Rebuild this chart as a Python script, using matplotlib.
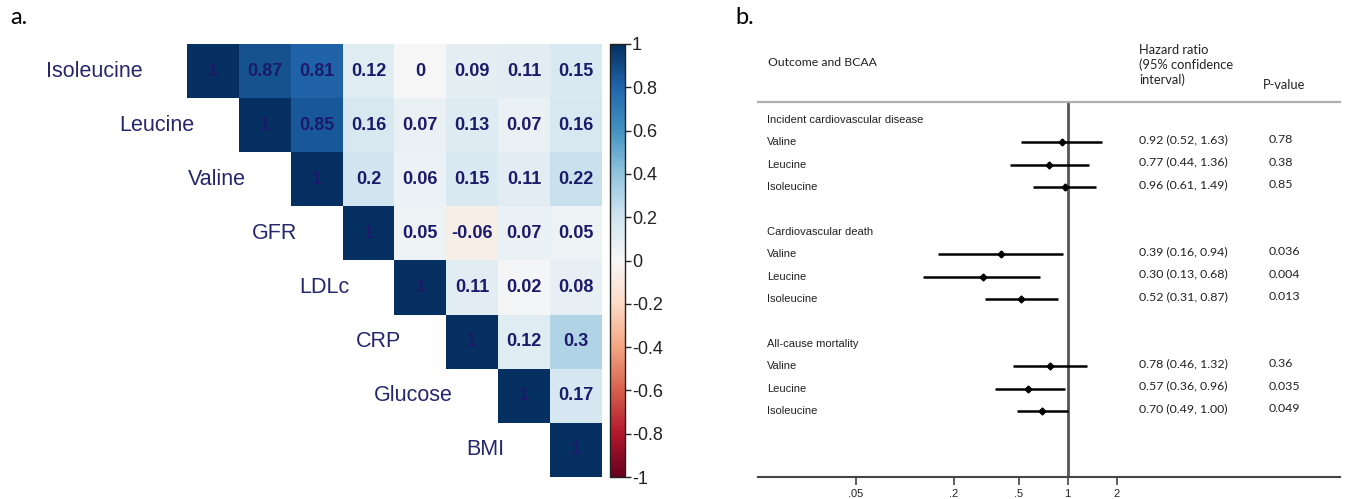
import numpy as np
import matplotlib
matplotlib.use("Agg")
import matplotlib.pyplot as plt
import matplotlib.transforms as mtransforms

plt.rcParams['font.family'] = ['Liberation Sans', 'DejaVu Sans']

# ---- panel a data: correlation matrix (upper triangle, row by row) ----
variables = ['Isoleucine', 'Leucine', 'Valine', 'GFR', 'LDLc', 'CRP', 'Glucose', 'BMI']
upper_rows = [
    [1, 0.87, 0.81, 0.12, 0, 0.09, 0.11, 0.15],
    [1, 0.85, 0.16, 0.07, 0.13, 0.07, 0.16],
    [1, 0.2, 0.06, 0.15, 0.11, 0.22],
    [1, 0.05, -0.06, 0.07, 0.05],
    [1, 0.11, 0.02, 0.08],
    [1, 0.12, 0.3],
    [1, 0.17],
    [1],
]
cbar_ticks = [1, 0.8, 0.6, 0.4, 0.2, 0, -0.2, -0.4, -0.6, -0.8, -1]
cbar_labels = ['1', '0.8', '0.6', '0.4', '0.2', '0', '-0.2', '-0.4', '-0.6', '-0.8', '-1']

# ---- panel b data: forest plot ----
outcomes = ['Incident cardiovascular disease', 'Cardiovascular death', 'All-cause mortality']
bcaa = ['Valine', 'Leucine', 'Isoleucine']
hr = [0.92, 0.77, 0.96, 0.39, 0.30, 0.52, 0.78, 0.57, 0.70]
ci_lo = [0.52, 0.44, 0.61, 0.16, 0.13, 0.31, 0.46, 0.36, 0.49]
ci_hi = [1.63, 1.36, 1.49, 0.94, 0.68, 0.87, 1.32, 0.96, 1.00]
pvals = ['0.78', '0.38', '0.85', '0.036', '0.004', '0.013', '0.36', '0.035', '0.049']
hr_ticks = [0.05, 0.2, 0.5, 1, 2]
hr_ticklabels = ['.05', '.2', '.5', '1', '2']

W, H = 1349, 499
fig = plt.figure(figsize=(W / 100, H / 100), dpi=100)

# ================= panel a =================
n = len(variables)
mat = np.full((n, n), np.nan)
for i, row in enumerate(upper_rows):
    mat[i, i:] = row

ax = fig.add_axes([187.3 / W, (H - 477) / H, 414.4 / W, 433 / H])
im = ax.imshow(np.ma.masked_invalid(mat), cmap='RdBu', vmin=-1, vmax=1,
               aspect='auto', interpolation='nearest')
ax.axis('off')
for i in range(n):
    for j in range(i, n):
        ax.text(j, i, f'{mat[i, j]:g}', ha='center', va='center',
                fontsize=13, fontweight='bold', color='#1b1b6b')
    ax.text(i - 1.37, i, variables[i], ha='right', va='center',
            fontsize=15.5, color='#26266e')

cax = fig.add_axes([610 / W, (H - 477) / H, 15 / W, 433 / H])
cb = fig.colorbar(im, cax=cax, ticks=cbar_ticks)
cb.set_ticklabels(cbar_labels)
cb.ax.tick_params(labelsize=13, length=4, width=1, colors='#222', pad=1)
cb.outline.set_linewidth(1)
cb.outline.set_edgecolor('#222')

fig.text(10 / W, 1 - 18 / H, 'a.', fontsize=17, va='center', ha='left', family='Lato')

# ================= panel b =================
fax = fig.add_axes([758 / W, (H - 476.7) / H, 582 / W, 375 / H])
fax.set_xscale('log')
x_left = 10 ** ((758 - 1067.7) / 162.8)
x_right = 10 ** ((1340 - 1067.7) / 162.8)
fax.set_xlim(x_left, x_right)
fax.set_ylim(15.92, -0.82)

ys = []
for g in range(len(outcomes)):
    for k in range(len(bcaa)):
        ys.append(g * 5 + 1 + k)

fax.axvline(1, color='#555555', lw=2, zorder=1)
fax.hlines(ys, ci_lo, ci_hi, color='black', lw=1.8, zorder=2)
fax.plot(hr, ys, 'D', color='black', ms=3.5, zorder=3)

fax.set_xticks(hr_ticks)
fax.set_xticklabels(hr_ticklabels)
fax.xaxis.set_minor_locator(matplotlib.ticker.NullLocator())
fax.tick_params(axis='x', length=6, width=1.2, colors='#444', labelsize=8,
                labelcolor='#222', pad=3)
fax.set_yticks([])
for s in ['left', 'right']:
    fax.spines[s].set_visible(False)
fax.spines['top'].set_color('#b0b0b0')
fax.spines['top'].set_linewidth(1.6)
fax.spines['bottom'].set_color('#444444')
fax.spines['bottom'].set_linewidth(1.5)

trans = mtransforms.blended_transform_factory(fax.transAxes, fax.transData)
lab_x = (767 - 758) / 582
hr_x = (1139 - 758) / 582
p_x = (1269 - 758) / 582
for g, name in enumerate(outcomes):
    fax.text(lab_x, g * 5, name, transform=trans, ha='left', va='center',
             fontsize=8, color='#222')
for idx, y in enumerate(ys):
    fax.text(lab_x, y, bcaa[idx % 3], transform=trans, ha='left', va='center',
             fontsize=8, color='#222')
    fax.text(hr_x, y - 0.12, f'{hr[idx]:.2f} ({ci_lo[idx]:.2f}, {ci_hi[idx]:.2f})',
             transform=trans, ha='left', va='center', fontsize=8.9,
             family='Lato', color='#222')
    fax.text(p_x, y - 0.12, pvals[idx], transform=trans, ha='left', va='center',
             fontsize=8.9, family='Lato', color='#222')

fig.text(768 / W, 1 - 63 / H, 'Outcome and BCAA', fontsize=8.8, family='Lato',
         ha='left', va='center', color='#222')
fig.text(1139 / W, 1 - 65 / H, 'Hazard ratio\n(95% confidence\ninterval)',
         fontsize=9.3, family='Lato', ha='left', va='center', linespacing=1.25,
         color='#222')
fig.text(1263 / W, 1 - 85 / H, 'P-value', fontsize=9.3, family='Lato',
         ha='left', va='center', color='#222')
fig.text(735 / W, 1 - 18 / H, 'b.', fontsize=17, va='center', ha='left', family='Lato')

fig.savefig('out.png', dpi=100)
